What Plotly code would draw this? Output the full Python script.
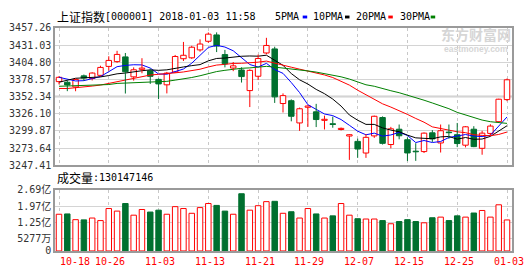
import plotly.graph_objects as go
import pandas as pd

# ---------------- data ----------------
dates = ["2017-10-18","2017-10-19","2017-10-20","2017-10-23","2017-10-24","2017-10-25","2017-10-26","2017-10-27","2017-10-30","2017-10-31",
         "2017-11-01","2017-11-02","2017-11-03","2017-11-06","2017-11-07","2017-11-08","2017-11-09","2017-11-10","2017-11-13","2017-11-14",
         "2017-11-15","2017-11-16","2017-11-17","2017-11-20","2017-11-21","2017-11-22","2017-11-23","2017-11-24","2017-11-27","2017-11-28",
         "2017-11-29","2017-11-30","2017-12-01","2017-12-04","2017-12-05","2017-12-06","2017-12-07","2017-12-08","2017-12-11","2017-12-12",
         "2017-12-13","2017-12-14","2017-12-15","2017-12-18","2017-12-19","2017-12-20","2017-12-21","2017-12-22","2017-12-25","2017-12-26",
         "2017-12-27","2017-12-28","2017-12-29","2018-01-02","2018-01-03"]

opens  = [3375.2,3374.2,3367.0,3384.0,3380.0,3384.8,3398.5,3405.8,3413.0,3382.5,
          3394.0,3391.7,3378.6,3370.3,3389.8,3410.2,3411.6,3423.7,3436.9,3446.6,
          3416.5,3396.0,3393.0,3361.5,3383.4,3419.0,3425.2,3341.7,3346.0,3312.0,
          3336.0,3329.0,3316.0,3310.8,3302.0,3292.0,3283.8,3266.0,3292.2,3320.3,
          3279.0,3302.4,3286.3,3268.8,3268.2,3296.9,3281.4,3298.0,3294.0,3278.0,
          3302.4,3273.2,3296.0,3314.0,3347.7]
highs  = [3383.5,3377.0,3380.0,3386.0,3389.5,3399.5,3414.0,3422.3,3419.0,3397.0,
          3411.0,3395.0,3380.0,3390.0,3416.0,3435.9,3430.0,3439.8,3450.4,3450.5,
          3423.7,3405.2,3397.0,3394.0,3416.5,3442.2,3428.6,3357.2,3348.0,3335.5,
          3339.0,3341.2,3323.2,3321.7,3305.0,3295.0,3288.0,3295.0,3323.2,3322.0,
          3306.0,3309.6,3290.0,3281.0,3297.5,3301.0,3309.6,3309.6,3312.0,3307.2,
          3307.0,3300.0,3310.0,3349.0,3379.9]
lows   = [3371.0,3360.6,3360.5,3376.5,3377.0,3383.5,3392.0,3404.0,3357.0,3376.7,
          3388.0,3371.7,3348.4,3357.2,3388.5,3406.7,3410.0,3421.0,3434.5,3420.4,
          3397.0,3391.2,3373.8,3336.3,3377.6,3417.0,3342.6,3328.0,3314.5,3299.9,
          3306.0,3305.7,3302.0,3304.7,3300.5,3255.5,3258.6,3258.6,3289.2,3279.0,
          3273.2,3287.0,3253.7,3254.0,3266.0,3283.0,3266.8,3287.8,3275.0,3274.6,
          3275.0,3263.4,3293.0,3314.0,3345.3]
closes = [3381.8,3370.2,3378.6,3380.7,3388.3,3396.9,3407.6,3416.8,3390.3,3393.3,
          3395.9,3383.3,3371.7,3388.2,3413.6,3415.5,3427.8,3432.7,3447.8,3429.6,
          3402.5,3399.3,3382.9,3392.4,3410.5,3430.5,3351.9,3353.8,3322.2,3333.7,
          3337.9,3317.2,3317.6,3309.6,3303.7,3294.0,3272.1,3290.0,3322.2,3280.8,
          3303.0,3292.4,3266.1,3267.9,3296.4,3287.6,3300.1,3297.1,3280.5,3306.1,
          3275.8,3296.4,3307.2,3348.3,3378.0]
# closes of the 29 sessions before the window (needed for the moving averages)
prior_closes = [3360.81,3367.12,3379.58,3384.32,3385.39,3365.50,3365.24,3376.42,3379.49,3384.15,
                3371.43,3353.62,3362.86,3356.84,3366.00,3357.81,3352.53,3341.55,3343.58,3345.27,
                3339.64,3348.94,3374.38,3382.99,3388.28,3386.10,3390.52,3378.47,3372.04]
# volume in 亿 (1e8 shares)
volumes_yi = [1.619,1.632,1.380,1.370,1.451,1.339,1.870,1.757,2.092,1.577,
              1.828,1.715,1.799,1.619,1.954,1.870,1.661,1.912,2.092,2.008,
              1.757,1.619,2.523,1.799,1.995,2.175,2.189,1.661,1.729,1.451,
              1.870,1.632,1.451,1.548,2.092,1.577,1.422,1.408,1.408,1.339,
              1.199,1.297,1.380,1.297,1.241,1.464,1.492,1.339,1.548,1.492,
              1.673,1.785,1.492,2.036,1.367]

price_ticks = [3247.41,3273.64,3299.87,3326.10,3352.34,3378.57,3404.80,3431.03,3457.26]
price_ticktext = ["3247.41","3273.64","3299.87","3326.10","3352.34","3378.57","3404.80","3431.03","3457.26"]
vol_ticks = [0, 52770000, 125000000, 197000000, 269000000]
vol_ticktext = ["0", "5277万", "1.25亿", "1.97亿", "2.69亿"]
tick_dates = ["2017-10-18","2017-10-26","2017-11-03","2017-11-13","2017-11-21",
              "2017-11-29","2017-12-07","2017-12-15","2017-12-25","2018-01-03"]
tick_labels = ["10-18","10-26","11-03","11-13","11-21","11-29","12-07","12-15","12-25","01-03"]
ma_periods = [5, 10, 20, 30]
ma_names = ["5PMA", "10PMA", "20PMA", "30PMA"]
ma_colors = ["#0000ff", "#000000", "#ff0000", "#008000"]
title_cn = "上证指数"
title_rest = "[000001] 2018-01-03 11:58"
vol_label_cn = "成交量"
vol_label_rest = ":130147146"

# ---------------- styling ----------------
W, H = 530, 276
RED = "#ff0000"
GREEN = "#00702f"
MONO = "DejaVu Sans Mono, Noto Sans CJK SC"
CJK = "Noto Sans CJK SC"
def px(x): return x / W
def py(y): return 1 - y / H

n = len(dates)
allc = pd.Series(prior_closes + closes)
mas = [allc.rolling(p).mean().iloc[len(prior_closes):].tolist() for p in ma_periods]
volumes = [v * 1e8 for v in volumes_yi]

up = [c >= o for o, c in zip(opens, closes)]

fig = go.Figure()

# moving averages
for m, name, col in zip(mas, ma_names, ma_colors):
    fig.add_trace(go.Scatter(x=dates, y=m, mode="lines", name=name,
                             line=dict(color=col, width=1), hoverinfo="skip",
                             xaxis="x", yaxis="y"))

# wicks
for flag, col in [(True, RED), (False, GREEN)]:
    wx, wy = [], []
    for i in range(n):
        if up[i] != flag:
            continue
        lo_b, hi_b = min(opens[i], closes[i]), max(opens[i], closes[i])
        wx += [dates[i], dates[i], None, dates[i], dates[i], None]
        wy += [lows[i], lo_b, None, hi_b, highs[i], None]
    fig.add_trace(go.Scatter(x=wx, y=wy, mode="lines", line=dict(color=col, width=1),
                             hoverinfo="skip", xaxis="x", yaxis="y"))

# bodies
ux = [dates[i] for i in range(n) if up[i]]
fig.add_trace(go.Bar(x=ux, y=[closes[i] - opens[i] for i in range(n) if up[i]],
                     base=[opens[i] for i in range(n) if up[i]], width=0.66,
                     marker=dict(color="white", line=dict(color=RED, width=1)),
                     xaxis="x", yaxis="y"))
dx = [dates[i] for i in range(n) if not up[i]]
fig.add_trace(go.Bar(x=dx, y=[opens[i] - closes[i] for i in range(n) if not up[i]],
                     base=[closes[i] for i in range(n) if not up[i]], width=0.66,
                     marker=dict(color=GREEN, line=dict(color=GREEN, width=1)),
                     xaxis="x", yaxis="y"))

# volume
fig.add_trace(go.Bar(x=ux, y=[volumes[i] for i in range(n) if up[i]], width=0.66,
                     marker=dict(color="white", line=dict(color=RED, width=1)),
                     xaxis="x2", yaxis="y2"))
fig.add_trace(go.Bar(x=dx, y=[volumes[i] for i in range(n) if not up[i]], width=0.66,
                     marker=dict(color=GREEN, line=dict(color=GREEN, width=1)),
                     xaxis="x2", yaxis="y2"))

xdom = [px(55), px(512)]
xrange_ = [-0.482, 54.603]
common_x = dict(type="category", categoryorder="array", categoryarray=dates,
                range=xrange_, domain=xdom, tickvals=tick_dates, showticklabels=False,
                ticks="", showgrid=True, gridcolor="#c8c8c8", griddash="3px,3px", gridwidth=1,
                showline=True, mirror=True, linecolor="#9a9a9a", linewidth=1.5, zeroline=False)

annotations = []
def txt(x, y, s, size, family, color="#000000", xanchor="left", xref="paper", xshift=0, bold=False):
    annotations.append(dict(x=x, y=y, xref=xref, yref="paper", text=("<b>%s</b>" % s) if bold else s,
                            showarrow=False, xanchor=xanchor, yanchor="middle",
                            font=dict(size=size, family=family, color=color),
                            borderpad=0, borderwidth=0, xshift=xshift))

txt(px(57), py(10), title_cn, 12, CJK)
txt(px(105), py(10), title_rest, 10, MONO)
txt(px(57), py(179), vol_label_cn, 12, CJK)
txt(px(93), py(179), vol_label_rest, 10, MONO)

leg_pos = [275, 312.7, 355.7, 400]
leg_rect = [302.7, 345, 388.3, 430.7]
shapes = []
for name, col, lx, rx in zip(ma_names, ma_colors, leg_pos, leg_rect):
    txt(px(lx), py(10), name, 10, MONO)
    shapes.append(dict(type="rect", xref="paper", yref="paper", x0=px(rx), x1=px(rx + 4.5),
                       y0=py(12), y1=py(9), fillcolor=col, line=dict(width=0)))

for k, (d, lab) in enumerate(zip(tick_dates, tick_labels)):
    if k == 0:
        txt(d, py(267.5), lab, 10, MONO, color=RED, xanchor="left", xref="x2", xshift=1)
    else:
        txt(d, py(267.5), lab, 10, MONO, color=RED, xanchor="center", xref="x2", xshift=1.5)

# watermark
txt(px(476), py(28), "东方财富网", 14, CJK, color="#d6d6d6", xanchor="center", bold=True)
txt(px(476), py(44), "eastmoney.com", 8.5, "Liberation Sans", color="#d6d6d6", xanchor="center", bold=True)

# darker middle grid line
shapes.append(dict(type="line", xref="x domain", yref="y", x0=0, x1=1, y0=3352.34, y1=3352.34,
                   line=dict(color="#9a9a9a", width=1.5), layer="below"))

fig.update_layout(
    width=W, height=H, margin=dict(l=0, r=0, t=0, b=0),
    paper_bgcolor="white", plot_bgcolor="white", showlegend=False, barmode="overlay",
    xaxis=dict(anchor="y", **common_x),
    xaxis2=dict(anchor="y2", matches="x", **common_x),
    yaxis=dict(domain=[py(166), py(22)], range=[3247.41, 3457.26], tickvals=price_ticks,
               ticktext=price_ticktext, ticks="", showgrid=True, gridcolor="#d4d4d4", gridwidth=1,
               showline=True, mirror=True, linecolor="#9a9a9a", linewidth=1.5, zeroline=False,
               tickfont=dict(family=MONO, size=10, color="#333333"), anchor="x"),
    yaxis2=dict(domain=[py(256), py(192)], range=[0, 2.69e8], tickvals=vol_ticks,
                ticktext=vol_ticktext, ticks="", showgrid=True, gridcolor="#d4d4d4", gridwidth=1,
                showline=True, mirror=True, linecolor="#9a9a9a", linewidth=1.5, zeroline=False,
                tickfont=dict(family=MONO, size=10, color="#333333"), anchor="x2"),
    annotations=annotations, shapes=shapes,
)

fig.write_html("out.html")
